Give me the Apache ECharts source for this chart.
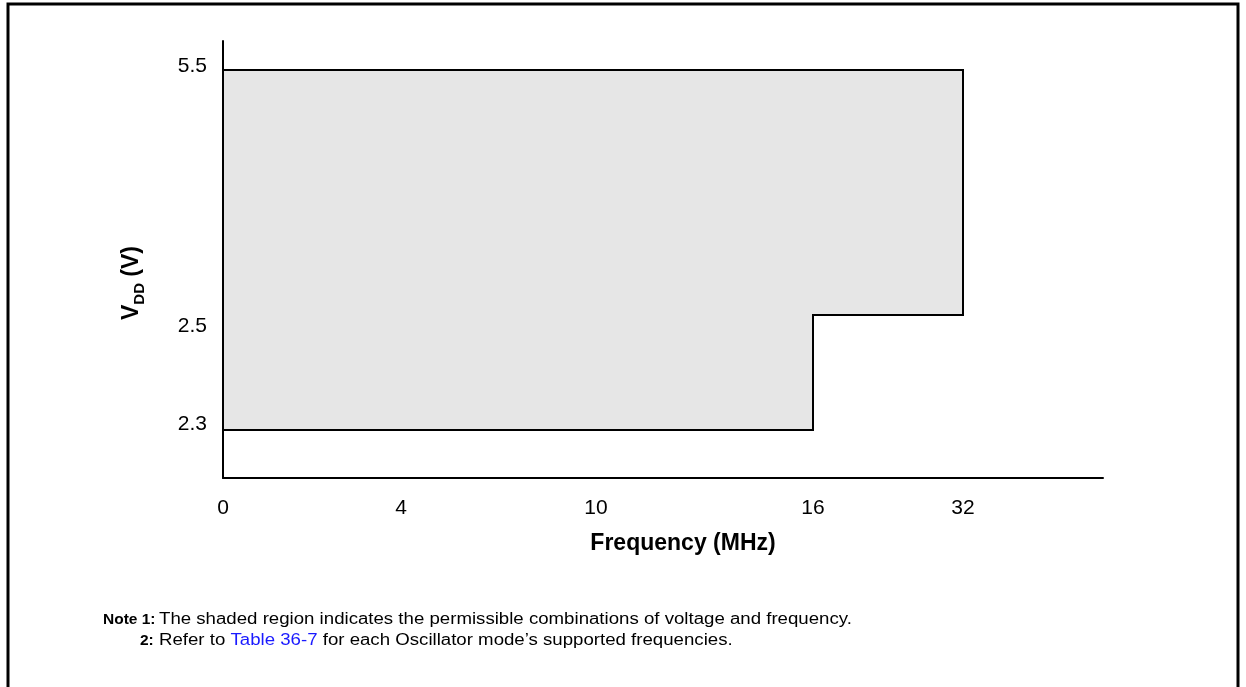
<!DOCTYPE html>
<html>
<head>
<meta charset="utf-8">
<style>
  html, body { margin: 0; padding: 0; background: #fff; }
  #chart { width: 1246px; height: 687px; }
</style>
<script src="https://cdn.jsdelivr.net/npm/echarts@6/dist/echarts.min.js"></script>
</head>
<body>
<div id="chart"></div>
<script>
// Operating region: VDD versus oscillator frequency
const freqTicks = [0, 4, 10, 16, 32];          // MHz, tick labels on the frequency axis
const vddTicks = [2.3, 2.5, 5.5];               // V, tick labels on the voltage axis

// Vertices of the permissible operating region (frequency in MHz, VDD in V)
const regionFreq = [0, 0, 32, 32, 16, 16];
const regionVdd = [2.3, 5.5, 5.5, 2.5, 2.5, 2.3];

// The axes are schematic (not to scale): each tick sits at a fixed slot on the axis
const freqSlots = [0, 178, 373, 590, 740];
const freqAxisLen = 880;
const vddSlots = [48, 163, 408];
const vddAxisLen = 437;

function piecewise(v, vals, slots) {
  if (v <= vals[0]) return slots[0];
  for (let i = 1; i < vals.length; i++) {
    if (v <= vals[i]) {
      const t = (v - vals[i - 1]) / (vals[i] - vals[i - 1]);
      return slots[i - 1] + t * (slots[i] - slots[i - 1]);
    }
  }
  return slots[slots.length - 1];
}
function slotLabel(slot, vals, slots) {
  const i = slots.indexOf(slot);
  return i >= 0 ? String(vals[i]) : '';
}

const regionPoints = regionFreq.map((f, i) => [
  piecewise(f, freqTicks, freqSlots),
  piecewise(regionVdd[i], vddTicks, vddSlots)
]);

const FONT = '"Liberation Sans", Arial, sans-serif';
const TICK_SIZE = 21;
const NOTE_SIZE = 16;

const chart = echarts.init(document.getElementById('chart'), null, { renderer: 'canvas' });
chart.setOption({
  animation: false,
  backgroundColor: '#ffffff',
  grid: { left: 223, right: 143, top: 41, bottom: 209, containLabel: false },
  xAxis: {
    type: 'value',
    min: 0,
    max: freqAxisLen,
    axisLine: { show: true, lineStyle: { color: '#000', width: 2 } },
    axisTick: { show: false },
    splitLine: { show: false },
    axisLabel: {
      customValues: freqSlots,
      formatter: v => slotLabel(v, freqTicks, freqSlots),
      color: '#000',
      fontFamily: FONT,
      fontSize: TICK_SIZE,
      margin: 20
    },
    name: 'Frequency (MHz)',
    nameLocation: 'middle',
    nameGap: 54,
    nameTextStyle: {
      color: '#000',
      fontFamily: FONT,
      fontSize: 23,
      fontWeight: 'bold',
      padding: [0, 0, 0, 40]
    }
  },
  yAxis: {
    type: 'value',
    min: 0,
    max: vddAxisLen,
    axisLine: { show: true, lineStyle: { color: '#000', width: 2 } },
    axisTick: { show: false },
    splitLine: { show: false },
    axisLabel: {
      customValues: vddSlots,
      formatter: v => {
        const s = slotLabel(v, vddTicks, vddSlots);
        if (s === '2.5') return '{lo|' + s + '}';
        if (s === '2.3') return '{hi|' + s + '}';
        return '{top|' + s + '}';
      },
      color: '#000',
      fontFamily: FONT,
      fontSize: TICK_SIZE,
      margin: 16,
      rich: {
        top: { fontFamily: FONT, fontSize: TICK_SIZE, color: '#000', padding: [0, 0, 8, 0] },
        lo: { fontFamily: FONT, fontSize: TICK_SIZE, color: '#000', padding: [22, 0, 0, 0] },
        hi: { fontFamily: FONT, fontSize: TICK_SIZE, color: '#000', padding: [0, 0, 12, 0] }
      }
    }
  },
  series: [{
    type: 'custom',
    coordinateSystem: 'cartesian2d',
    data: [[0, 0]],
    renderItem: function (params, api) {
      const pts = regionPoints.map(p => api.coord(p));
      return {
        type: 'polygon',
        shape: { points: pts },
        style: { fill: '#e6e6e6', stroke: '#000', lineWidth: 2 }
      };
    },
    silent: true
  }],
  graphic: [
    {
      type: 'rect',
      shape: { x: 8, y: 4, width: 1230, height: 720 },
      style: { fill: null, stroke: '#000', lineWidth: 3 },
      silent: true
    },
    {
      type: 'text',
      x: 130,
      y: 283,
      rotation: Math.PI / 2,
      style: {
        text: '{v|V}{dd|DD}{v| (V)}',
        align: 'center',
        verticalAlign: 'middle',
        rich: {
          v: { fontFamily: FONT, fontSize: 23, fontWeight: 'bold', fill: '#000', lineHeight: 26, verticalAlign: 'bottom' },
          dd: { fontFamily: FONT, fontSize: 15, fontWeight: 'bold', fill: '#000', lineHeight: 26, verticalAlign: 'bottom', padding: [0, 0, -4, 0] }
        }
      }
    },
    {
      type: 'text',
      x: 103,
      y: 620,
      style: {
        text: '{b|Note 1:}',
        verticalAlign: 'middle',
        rich: { b: { fontFamily: FONT, fontSize: 15.5, fontWeight: 'bold', fill: '#000' } }
      }
    },
    {
      type: 'text',
      x: 159,
      y: 620,
      scaleX: 1.165,
      style: {
        text: 'The shaded region indicates the permissible combinations of voltage and frequency.',
        verticalAlign: 'middle',
        font: NOTE_SIZE + 'px ' + FONT,
        fill: '#000'
      }
    },
    {
      type: 'text',
      x: 140,
      y: 641,
      style: {
        text: '{b|2:}',
        verticalAlign: 'middle',
        rich: { b: { fontFamily: FONT, fontSize: 15.5, fontWeight: 'bold', fill: '#000' } }
      }
    },
    {
      type: 'text',
      x: 159,
      y: 641,
      scaleX: 1.165,
      style: {
        text: '{n|Refer to }{l|Table 36-7}{n| for each Oscillator mode\u2019s supported frequencies.}',
        verticalAlign: 'middle',
        rich: {
          n: { fontFamily: FONT, fontSize: NOTE_SIZE, fill: '#000' },
          l: { fontFamily: FONT, fontSize: NOTE_SIZE, fill: '#1a1aff' }
        }
      }
    }
  ]
});
</script>
</body>
</html>
